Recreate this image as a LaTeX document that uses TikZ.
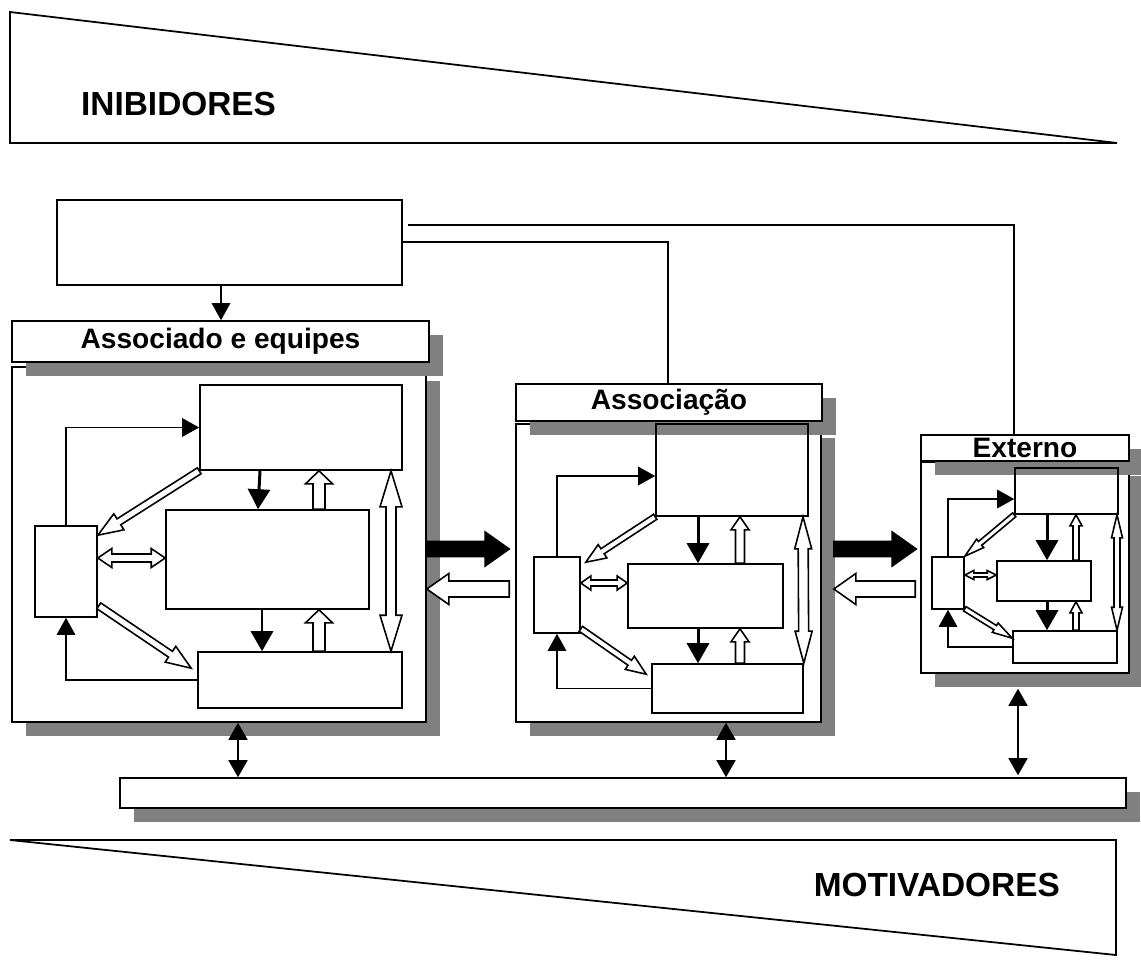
\documentclass[tikz,border=0pt]{standalone}
\usepackage{fontspec}
\setmainfont{Liberation Sans}
\usetikzlibrary{arrows.meta,calc,fit,shadows}
\definecolor{ShadeGray}{HTML}{808080}
\tikzset{
  plain box/.style={draw=black, line width=0.9pt, inner sep=0pt},
  panel box/.style={
    plain box,
    fill=white,
    drop shadow={shadow xshift=0.28cm, shadow yshift=-0.28cm, opacity=1, fill=ShadeGray}
  },
  head text/.style={font=\fontsize{16}{18}\selectfont\bfseries, inner sep=0pt},
  inner box/.style={draw=black, line width=0.9pt, inner sep=0pt},
  loop flow/.style={-{Triangle[length=0.34cm,width=0.37cm]}, line width=0.8pt},
  down flow/.style={-{Triangle[length=0.4cm,width=0.44cm]}, line width=1.7pt},
  both flow/.style={{Triangle[length=0.34cm,width=0.38cm]}-{Triangle[length=0.34cm,width=0.38cm]}, line width=0.9pt},
  link line/.style={line width=0.9pt},
  block arrow/.style={draw=black, line width=0.9pt, line join=miter},
  wedge/.style={draw=black, line width=1pt},
  wedge label/.style={font=\fontsize{19}{22}\selectfont\bfseries}
}
% hollow (or filled) block arrow: [fill]{from}{to}{shaft}{head}{head length}
\newcommand{\blockarrow}[6][fill=white]{%
  \coordinate (ba-s) at (#2);
  \coordinate (ba-e) at (#3);
  \coordinate (ba-h) at ($(ba-e)!#6*0.02cm!(ba-s)$);
  \draw[block arrow,#1]
    ($(ba-s)!#4*0.01cm!90:(ba-e)$) -- ($(ba-h)!#4*0.01cm!90:(ba-e)$)
    -- ($(ba-h)!#5*0.01cm!90:(ba-e)$) -- (ba-e)
    -- ($(ba-h)!#5*0.01cm!-90:(ba-e)$) -- ($(ba-h)!#4*0.01cm!-90:(ba-e)$)
    -- ($(ba-s)!#4*0.01cm!-90:(ba-e)$) -- cycle;
}
% same with a head at each end
\newcommand{\dblockarrow}[6][fill=white]{%
  \coordinate (ba-s) at (#2);
  \coordinate (ba-e) at (#3);
  \coordinate (ba-h) at ($(ba-e)!#6*0.02cm!(ba-s)$);
  \coordinate (ba-t) at ($(ba-s)!#6*0.02cm!(ba-e)$);
  \draw[block arrow,#1]
    (ba-s) -- ($(ba-t)!#5*0.01cm!90:(ba-e)$) -- ($(ba-t)!#4*0.01cm!90:(ba-e)$)
    -- ($(ba-h)!#4*0.01cm!90:(ba-e)$) -- ($(ba-h)!#5*0.01cm!90:(ba-e)$)
    -- (ba-e)
    -- ($(ba-h)!#5*0.01cm!-90:(ba-e)$) -- ($(ba-h)!#4*0.01cm!-90:(ba-e)$)
    -- ($(ba-t)!#4*0.01cm!-90:(ba-e)$) -- ($(ba-t)!#5*0.01cm!-90:(ba-e)$)
    -- cycle;
}

\begin{document}
\begin{tikzpicture}[x=0.02cm, y=-0.02cm]
  \useasboundingbox (0,0) rectangle (1141,966);

  % wedges
  \draw[wedge] (10,12) -- (1117,143) -- (10,143) -- cycle;
  \node[wedge label, anchor=west] (inhib) at (75,104) {INIBIDORES};
  \draw[wedge] (10,840) -- (1116,840) -- (1116,955) -- cycle;
  \node[wedge label, anchor=east] (motiv) at (1066,885) {MOTIVADORES};

  \node[plain box, fit={(57,200) (402,285)}] (goal) {};

  % associado e equipes
  \node[panel box, fit={(12,367) (426,722)}] (pnA) {};
  \node[panel box, fit={(12,321) (429,362)}, label={[head text]center:Associado e equipes}] (hdA) {};
  \node[inner box, fit={(200,385) (402,470)}] (aTop) {};
  \node[inner box, fit={(166,510) (369,609)}] (aMid) {};
  \node[inner box, fit={(198,652) (402,708)}] (aBot) {};
  \node[inner box, fit={(35,526) (97,617)}] (aSide) {};
  \draw[loop flow] (aSide.north) |- (aTop.west);
  \draw[loop flow] (aBot.west) -| (aSide.south);
  \draw[down flow] (aTop.south -| 260,0) -- (aMid.north -| 258,0);
  \draw[down flow] (aMid.south -| 262,0) -- (aBot.north -| 262,0);
  \blockarrow{aMid.north -| 319,0}{aTop.south -| 319,0}{12}{27}{13}
  \blockarrow{aBot.north -| 319,0}{aMid.south -| 319,0}{12}{27}{13}
  \dblockarrow{aTop.south -| 391,0}{aBot.north -| 391,0}{10}{22}{36}
  \blockarrow{aTop.south west}{$(aSide.north east)+(0,10)$}{7}{19}{25}
  \blockarrow{$(aSide.south east)+(1,-12)$}{$(aBot.north west)+(-6,17)$}{7}{19}{25}
  \dblockarrow{aSide.east |- 0,558}{aMid.west |- 0,558}{8}{19}{14}

  % associacao
  \node[panel box, fit={(516,424) (821,722)}] (pnB) {};
  \node[panel box, fit={(516,384) (822,421)}, label={[head text]center:Associação}] (hdB) {};
  \node[inner box, fit={(656,424) (808,516)}] (bTop) {};
  \node[inner box, fit={(628,564) (783,628)}] (bMid) {};
  \node[inner box, fit={(652,664) (803,713)}] (bBot) {};
  \node[inner box, fit={(534,557) (580,633)}] (bSide) {};
  \draw[loop flow] (bSide.north) |- (bTop.west |- 0,476);
  \draw[loop flow] (bBot.west) -| (bSide.south);
  \draw[down flow] (bTop.south -| 698,0) -- (bMid.north -| 698,0);
  \draw[down flow] (bMid.south -| 698,0) -- (bBot.north -| 698,0);
  \blockarrow{bMid.north -| 740,0}{bTop.south -| 740,0}{9}{18}{13}
  \blockarrow{bBot.north -| 740,0}{bMid.south -| 740,0}{9}{18}{13}
  \dblockarrow{bTop.south -| 803,0}{bBot.north east}{10}{17}{32}
  \blockarrow{bTop.south west}{$(bSide.north east)+(5,6)$}{6}{16}{20}
  \blockarrow{$(bSide.south east)+(0,-5)$}{$(bBot.north west)+(-5,11)$}{6}{16}{20}
  \dblockarrow{bSide.east |- 0,583}{bMid.west |- 0,583}{6}{14}{10}

  % externo
  \node[panel box, fit={(921,462) (1129,673)}] (pnC) {};
  \node[panel box, fit={(921,435) (1129,461)}, label={[head text]center:Externo}] (hdC) {};
  \node[inner box, fit={(1015,468) (1118,514)}] (cTop) {};
  \node[inner box, fit={(997,561) (1091,601)}] (cMid) {};
  \node[inner box, fit={(1013,631) (1117,663)}] (cBot) {};
  \node[inner box, fit={(932,557) (964,609)}] (cSide) {};
  \draw[loop flow] (cSide.north) |- (cTop.west |- 0,499);
  \draw[loop flow] (cBot.west) -| (cSide.south);
  \draw[down flow] (cTop.south -| 1047,0) -- (cMid.north -| 1047,0);
  \draw[down flow] (cMid.south -| 1047,0) -- (cBot.north -| 1047,0);
  \blockarrow{cMid.north -| 1076,0}{cTop.south -| 1076,0}{6}{12}{11}
  \blockarrow{cBot.north -| 1076,0}{cMid.south -| 1076,0}{6}{12}{11}
  \dblockarrow{cTop.south -| 1117,0}{cBot.north -| 1117,0}{6}{11}{23}
  \blockarrow{cTop.south west}{cSide.north east}{5}{11}{20}
  \blockarrow{$(cSide.south east)+(0,-1)$}{$(cBot.north west)+(0,8)$}{5}{11}{20}
  \dblockarrow{cSide.east |- 0,575}{cMid.west |- 0,575}{4}{9}{9}

  % base bar
  \node[panel box, fit={(120,778) (1126,808)}] (base) {};

  \draw[loop flow] (goal.south -| 221,0) -- (hdA.north -| 221,0);
  \draw[link line] ($(goal.east |- 0,225)+(5,0)$) -| (hdC.north -| 1014,0);
  \draw[link line] (goal.east |- 0,242) -| (hdB.north -| 668,0);

  \blockarrow[fill=black]{pnA.east |- 0,549}{$(pnB.west |- 0,549)+(-6,0)$}{15}{34}{24}
  \blockarrow{$(pnB.west |- 0,589)+(-6,0)$}{pnA.east |- 0,589}{16}{31}{22}
  \blockarrow[fill=black]{$(pnB.east |- 0,549)+(12,0)$}{$(pnC.west |- 0,549)+(-4,0)$}{15}{34}{24}
  \blockarrow{$(pnC.west |- 0,589)+(-5,0)$}{$(pnB.east |- 0,589)+(12,0)$}{16}{31}{22}

  \draw[both flow] (pnA.south -| 238,0) -- (base.north -| 238,0);
  \draw[both flow] (pnB.south -| 726,0) -- (base.north -| 726,0);
  \draw[both flow] ($(pnC.south -| 1018,0)+(0,15)$) -- ($(base.north -| 1018,0)+(0,-2)$);
\end{tikzpicture}
\end{document}
